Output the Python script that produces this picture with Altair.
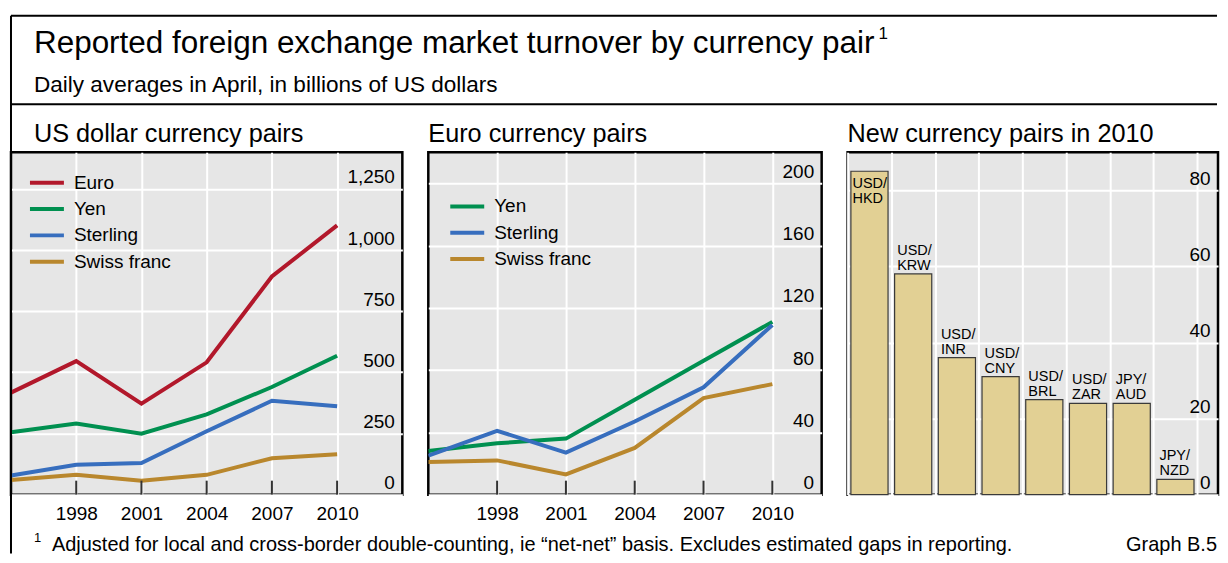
import altair as alt
import pandas as pd

FONT = "Liberation Sans"

# ---------------- data ----------------
years = [1995, 1998, 2001, 2004, 2007, 2010]

usd_euro = [417, 546, 372, 541, 892, 1101]
usd_yen = [255, 291, 249, 328, 440, 568]
usd_sterling = [78, 122, 129, 259, 384, 361]
usd_swiss = [60, 81, 57, 81, 149, 165]

eur_yen = [28, 33, 36, 61, 86, 111]
eur_sterling = [25, 41, 27, 47, 69, 109]
eur_swiss = [21, 22, 13, 30, 62, 71]

new_pairs = ["USD/HKD", "USD/KRW", "USD/INR", "USD/CNY",
             "USD/BRL", "USD/ZAR", "JPY/AUD", "JPY/NZD"]
new_values = [85, 58, 36, 31, 25, 24, 24, 4]

tick_years = [1998, 2001, 2004, 2007, 2010]
usd_ticks = [0, 250, 500, 750, 1000, 1250]
eur_ticks = [0, 40, 80, 120, 160, 200]
new_ticks = [0, 20, 40, 60, 80]

usd_names = ["Euro", "Yen", "Sterling", "Swiss franc"]
usd_colors = ["#b2182b", "#009050", "#376ebe", "#b9872d"]
eur_names = ["Yen", "Sterling", "Swiss franc"]
eur_colors = ["#009050", "#376ebe", "#b9872d"]

title_text = "Reported foreign exchange market turnover by currency pair"
subtitle_text = "Daily averages in April, in billions of US dollars"
panel_titles = ["US dollar currency pairs", "Euro currency pairs", "New currency pairs in 2010"]
footnote_text = "Adjusted for local and cross-border double-counting, ie \u201cnet-net\u201d basis. Excludes estimated gaps in reporting."
graph_id = "Graph B.5"

BAR_FILL = "#e2d094"
BG = "#e6e6e6"
W1, W2, W3, H = 392, 394, 371, 343


def long_df(names, series):
    rows = []
    for n, vals in zip(names, series):
        for yr, v in zip(years, vals):
            rows.append({"series": n, "year": yr, "value": v})
    return pd.DataFrame(rows)


usd_df = long_df(usd_names, [usd_euro, usd_yen, usd_sterling, usd_swiss])
eur_df = long_df(eur_names, [eur_yen, eur_sterling, eur_swiss])
ticks_df = pd.DataFrame({"year": tick_years})


def y_axis(values, fmt):
    return alt.Axis(orient="right", values=values, format=fmt, grid=True,
                    gridColor="white", gridWidth=2, ticks=False, tickSize=0,
                    domain=False, labelAlign="right", labelBaseline="alphabetic",
                    labelPadding=-8, labelOffset=-6, labelFlush=False,
                    labelFontSize=19, labelFont=FONT, labelColor="black",
                    title=None)


def txt(t, x, y, size, align="left"):
    return alt.Chart(pd.DataFrame({"t": [t]})).mark_text(
        align=align, baseline="alphabetic", fontSize=size, font=FONT,
        color="black").encode(x=alt.value(x), y=alt.value(y), text="t:N")


VIEW = alt.ViewBackground(fill=BG, stroke="black", strokeWidth=2.5)


def line_layers(df, names, colors, xdom, ydom, yticks, legend_x, legend_y):
    x = alt.X("year:Q", scale=alt.Scale(domain=xdom, nice=False, zero=False),
              axis=alt.Axis(values=tick_years, format="d", grid=True,
                            gridColor="white", gridWidth=2, ticks=False,
                            tickSize=0, domain=False, labelFontSize=19,
                            labelFont=FONT, labelColor="black",
                            labelPadding=25, labelBaseline="alphabetic",
                            labelFlush=False, title=None))
    y = alt.Y("value:Q", scale=alt.Scale(domain=ydom, nice=False),
              axis=y_axis(yticks, ",d"))
    color = alt.Color(
        "series:N", scale=alt.Scale(domain=names, range=colors),
        legend=alt.Legend(orient="none", legendX=legend_x, legendY=legend_y,
                          title=None, symbolType="stroke", symbolSize=1156,
                          symbolStrokeWidth=4, labelFontSize=19, labelFont=FONT,
                          labelColor="black", labelOffset=8, clipHeight=20,
                          rowPadding=6.3, padding=0))
    lines = alt.Chart(df).mark_line(strokeWidth=4, clip=True).encode(
        x=x, y=y, color=color, order="year:Q")
    ticks = alt.Chart(ticks_df).mark_rule(color="#333333", strokeWidth=2).encode(
        x=x, y=alt.value(H), y2=alt.value(H - 14))
    return [lines, ticks]


# ---- header / footer decorations (positioned relative to panel 1) ----
one = pd.DataFrame({"a": [0]})
RIGHT = 1208

deco = [
    alt.Chart(one).mark_rule(color="black", strokeWidth=2).encode(
        x=alt.value(0), x2=alt.value(RIGHT), y=alt.value(-136.75)),
    alt.Chart(one).mark_rule(color="black", strokeWidth=2).encode(
        x=alt.value(0), x2=alt.value(RIGHT), y=alt.value(-48)),
    alt.Chart(one).mark_rule(color="black", strokeWidth=2).encode(
        x=alt.value(0), y=alt.value(-136.75), y2=alt.value(402)),
    txt(title_text, 23, -99, 31.5),
    txt("1", 869, -113, 17),
    txt(subtitle_text, 23, -60, 22.6),
    txt(panel_titles[0], 23, -10, 25.3),
    txt("1", 23, 390, 13),
    txt(footnote_text, 41, 399, 20),
    txt(graph_id, 1208, 399, 20, align="right"),
]

p1 = alt.layer(*line_layers(usd_df, usd_names, usd_colors, [1995, 2013],
                            [0, 1400], usd_ticks, 17, 20.7), *deco).properties(
    width=W1, height=H, view=VIEW)

p2 = alt.layer(*line_layers(eur_df, eur_names, eur_colors, [1995, 2012.15],
                            [0, 220], eur_ticks, 20, 44.3),
               txt(panel_titles[1], 0, -10, 25.3)).properties(
    width=W2, height=H, view=VIEW)

# ---- new currency pairs bar panel ----
bar_df = pd.DataFrame({"pair": new_pairs, "value": new_values,
                       "label": [p.replace("/", "/\n") for p in new_pairs]})
bx = alt.X("pair:N", sort=None,
           scale=alt.Scale(domain=new_pairs, paddingInner=0, paddingOuter=0.237,
                           align=0),
           axis=alt.Axis(labels=False, ticks=False, domain=False, grid=True,
                         gridColor="white", gridWidth=2, tickBand="extent",
                         title=None))
by = alt.Y("value:Q", scale=alt.Scale(domain=[0, 90], nice=False),
           axis=y_axis(new_ticks, "d"))
bars = alt.Chart(bar_df).mark_bar(width={"band": 0.85}, fill=BAR_FILL,
                                  stroke="#3a3a3a", strokeWidth=1.2).encode(x=bx, y=by)
lab_out = alt.Chart(bar_df).transform_filter("datum.value < 70").mark_text(
    align="left", baseline="top", dx=-16, dy=-30, lineBreak="\n", lineHeight=15,
    fontSize=14.5, font=FONT, color="black").encode(x=bx, y=by, text="label:N")
lab_in = alt.Chart(bar_df).transform_filter("datum.value >= 70").mark_text(
    align="left", baseline="top", dx=-17, dy=6, lineBreak="\n", lineHeight=15,
    fontSize=14.5, font=FONT, color="black").encode(x=bx, y=by, text="label:N")
p3 = alt.layer(bars, lab_out, lab_in, txt(panel_titles[2], 0, -10, 25.3)).properties(
    width=W3, height=H, view=VIEW)

chart = alt.hconcat(p1, p2, p3, spacing=26, bounds="flush").resolve_scale(
    x="independent", y="independent", color="independent").resolve_legend(
    color="independent").properties(
    padding={"top": 5, "left": 0, "right": 0, "bottom": 0},
    background="white").configure_view(stroke=None)

chart.save("out.html", embed_options={"renderer": "svg", "actions": False})
